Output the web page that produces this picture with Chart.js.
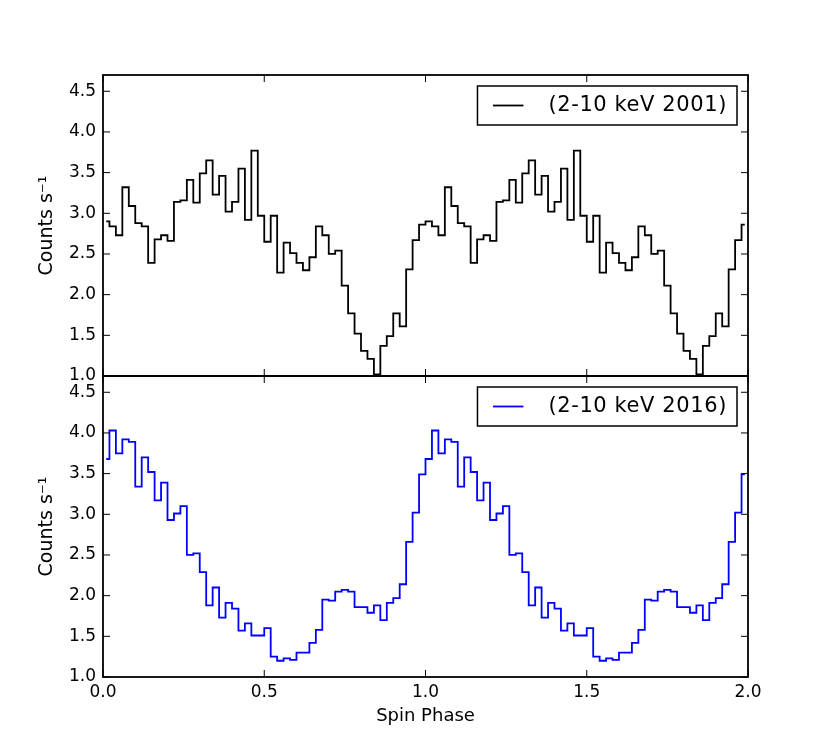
<!DOCTYPE html>
<html>
<head>
<meta charset="utf-8">
<script src="https://cdn.jsdelivr.net/npm/chart.js@4.4.1/dist/chart.umd.min.js"></script>
<style>
  html, body { margin: 0; padding: 0; background: #fff; }
  #wrap { position: relative; width: 831px; height: 752px; }
  #wrap canvas { position: absolute; left: 0; top: 0; }
</style>
</head>
<body>
<div id="wrap">
  <canvas id="chart2001" width="831" height="752"></canvas>
  <canvas id="chart2016" width="831" height="752"></canvas>
</div>
<script>
/* ── Data: one spin cycle of 50 phase bins, plotted twice ─────────────── */
const COUNTS_2001 = [
  2.90, 2.84, 2.73, 3.32, 3.09, 2.88, 2.84, 2.39, 2.68, 2.73,
  2.66, 3.14, 3.16, 3.41, 3.13, 3.49, 3.65, 3.23, 3.46, 3.02,
  3.14, 3.55, 2.92, 3.77, 2.97, 2.65, 2.97, 2.27, 2.64, 2.51,
  2.39, 2.30, 2.46, 2.84, 2.73, 2.50, 2.54, 2.11, 1.77, 1.52,
  1.31, 1.21, 1.02, 1.37, 1.49, 1.77, 1.61, 2.31, 2.67, 2.86
];
const COUNTS_2016 = [
  3.68, 4.03, 3.75, 3.92, 3.89, 3.34, 3.70, 3.52, 3.17, 3.39,
  2.93, 3.01, 3.10, 2.50, 2.52, 2.29, 1.88, 2.10, 1.73, 1.91,
  1.84, 1.57, 1.66, 1.51, 1.51, 1.60, 1.25, 1.20, 1.23, 1.21,
  1.30, 1.30, 1.42, 1.58, 1.95, 1.94, 2.05, 2.07, 2.05, 1.86,
  1.86, 1.79, 1.88, 1.70, 1.91, 1.97, 2.14, 2.66, 3.02, 3.49
];
const LABEL_2001 = '(2-10 keV 2001)';
const LABEL_2016 = '(2-10 keV 2016)';
const N_CYCLES   = 2;
const X_TICKS    = [0.0, 0.5, 1.0, 1.5, 2.0];
const Y_TICKS    = [1.0, 1.5, 2.0, 2.5, 3.0, 3.5, 4.0, 4.5];
const Y_MIN = 1.0, Y_MAX = 4.7;

/* ── Layout (pixels) ───────────────────────────────────────────────────── */
const W = 831, H = 752;
const AREA = { left: 103, right: 748, top: 75, mid: 376, bottom: 677 };
const FONT = 'DejaVu Sans';

Chart.defaults.font.family = FONT;
Chart.defaults.color = '#000';

// bin centres for each cycle; the step line changes value half way between them
function foldedPoints(counts) {
  const n = counts.length, pts = [];
  for (let c = 0; c < N_CYCLES; c++) {
    counts.forEach((v, i) => pts.push({ x: c + (i + 0.5) / n, y: v }));
  }
  return pts;
}

/* ── Plugins: matplotlib-like frame with inward ticks, boxed legend ───── */
const panelFrame = {
  id: 'panelFrame',
  afterDatasetsDraw(chart) {
    const { ctx, chartArea: a, scales: { x, y } } = chart;
    const len = 7;
    ctx.save();
    ctx.strokeStyle = '#000';
    ctx.lineWidth = 1;
    ctx.beginPath();
    X_TICKS.forEach(v => {
      const px = x.getPixelForValue(v);
      ctx.moveTo(px, a.bottom); ctx.lineTo(px, a.bottom - len);
      ctx.moveTo(px, a.top);    ctx.lineTo(px, a.top + len);
    });
    Y_TICKS.forEach(v => {
      const py = y.getPixelForValue(v);
      ctx.moveTo(a.left, py);  ctx.lineTo(a.left + len, py);
      ctx.moveTo(a.right, py); ctx.lineTo(a.right - len, py);
    });
    ctx.stroke();
    ctx.lineWidth = 1.8;
    ctx.strokeRect(a.left, a.top, a.right - a.left, a.bottom - a.top);
    ctx.restore();
  }
};

const boxLegend = {
  id: 'boxLegend',
  afterDraw(chart) {
    const ds = chart.data.datasets[0];
    const { ctx, chartArea: a } = chart;
    ctx.save();
    ctx.font = `21px "${FONT}"`;
    ctx.letterSpacing = '0.6px';
    const w    = ctx.measureText(ds.label).width;
    const boxW = 71 + w + 10, boxH = 39;
    const left = a.right - 11 - boxW, top = a.top + 11;
    const cy   = top + boxH / 2;
    ctx.fillStyle = '#fff';
    ctx.fillRect(left, top, boxW, boxH);
    ctx.strokeStyle = '#000';
    ctx.lineWidth = 1.5;
    ctx.strokeRect(left, top, boxW, boxH);
    ctx.strokeStyle = ds.borderColor;
    ctx.lineWidth = ds.borderWidth;
    ctx.beginPath();
    ctx.moveTo(left + 15.5, cy);
    ctx.lineTo(left + 46, cy);
    ctx.stroke();
    ctx.fillStyle = '#000';
    ctx.textBaseline = 'middle';
    ctx.fillText(ds.label, left + 71, cy);
    ctx.restore();
  }
};

/* ── Panel factory ─────────────────────────────────────────────────────── */
function makePanel(canvasId, counts, label, color, top, bottom, showX) {
  const ctx = document.getElementById(canvasId).getContext('2d');
  return new Chart(ctx, {
    type: 'line',
    data: {
      datasets: [{
        label,
        data: foldedPoints(counts),
        borderColor: color,
        borderWidth: 1.8,
        stepped: 'middle',
        pointRadius: 0,
        fill: false,
        tension: 0,
      }]
    },
    options: {
      responsive: false,
      animation: false,
      layout: { padding: { left: 0, right: W - AREA.right, top, bottom: showX ? 0 : H - bottom } },
      plugins: { legend: { display: false }, tooltip: { enabled: false } },
      scales: {
        x: {
          type: 'linear',
          min: X_TICKS[0], max: X_TICKS[X_TICKS.length - 1],
          display: showX,
          afterBuildTicks: s => { s.ticks = X_TICKS.map(v => ({ value: v })); },
          afterFit: s => { s.height = showX ? H - bottom : 0; },
          grid: { display: false, drawTicks: false },
          border: { display: false },
          ticks: {
            padding: 5,
            maxRotation: 0,
            font: { size: 17 },
            callback: v => Number(v).toFixed(1),
          },
          title: {
            display: true,
            text: 'Spin Phase',
            font: { size: 18 },
            padding: { top: 0, bottom: 25 },
          }
        },
        y: {
          type: 'linear',
          min: Y_MIN, max: Y_MAX,
          afterBuildTicks: s => { s.ticks = Y_TICKS.map(v => ({ value: v })); },
          afterFit: s => { s.width = AREA.left; },
          grid: { display: false, drawTicks: false },
          border: { display: false },
          ticks: {
            padding: 7,
            font: { size: 17 },
            callback: v => Number(v).toFixed(1),
          },
          title: {
            display: true,
            text: 'Counts s⁻¹',
            font: { size: 19 },
            padding: { top: 36, bottom: 0 },
          }
        }
      }
    },
    plugins: [panelFrame, boxLegend]
  });
}

makePanel('chart2001', COUNTS_2001, LABEL_2001, '#000000', AREA.top, AREA.mid, false);
makePanel('chart2016', COUNTS_2016, LABEL_2016, '#0000ff', AREA.mid, AREA.bottom, true);
</script>
</body>
</html>
